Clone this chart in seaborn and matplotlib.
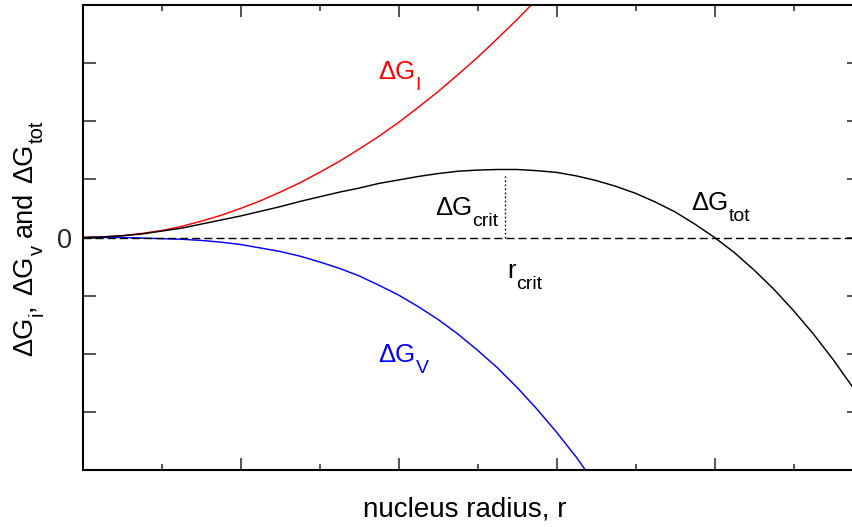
import matplotlib
matplotlib.use("Agg")
import numpy as np
import pandas as pd
import seaborn as sns
import matplotlib.pyplot as plt
from matplotlib.transforms import IdentityTransform
from matplotlib.ticker import MultipleLocator, FixedLocator

# ---------------- data ----------------
r_all = [0.0, 0.25, 0.5, 0.75, 1.0, 1.25, 1.5, 1.75, 2.0, 2.25, 2.5, 2.75,
         3.0, 3.25, 3.5, 3.75, 4.0, 4.25, 4.5, 4.75, 5.0, 5.25, 5.5, 5.75,
         6.0, 6.25, 6.5, 6.75, 7.0, 7.25, 7.5, 7.75, 8.0, 8.25, 8.5, 8.75,
         9.0, 9.25, 9.5, 9.75, 10.0]

dG_i = [0.0, 0.01, 0.03, 0.07, 0.12, 0.19, 0.28, 0.38, 0.50, 0.63, 0.78, 0.94,
        1.12, 1.31, 1.52, 1.74, 1.98, 2.24, 2.51, 2.80, 3.10, 3.42, 3.75, 4.10,
        4.46]

dG_v = [0.0, 0.00, 0.00, -0.01, -0.02, -0.03, -0.05, -0.08, -0.12, -0.18,
        -0.24, -0.32, -0.42, -0.53, -0.66, -0.82, -0.99, -1.19, -1.41, -1.66,
        -1.94, -2.24, -2.58, -2.95, -3.35, -3.78, -4.26]

dG_tot = [0.0, 0.01, 0.03, 0.06, 0.11, 0.16, 0.23, 0.30, 0.37, 0.45, 0.53,
          0.62, 0.70, 0.78, 0.85, 0.93, 0.99, 1.05, 1.10, 1.14, 1.16, 1.17,
          1.17, 1.15, 1.12, 1.06, 0.98, 0.88, 0.76, 0.61, 0.44, 0.23, 0.0,
          -0.26, -0.56, -0.89, -1.26, -1.66, -2.10, -2.58, -3.10]

zero_level = 0.0
r_crit = 5.35
dG_crit_top = 1.08

x_limits = (0, 9.84)
y_limits = (-4, 4)
x_major = [0, 2, 4, 6, 8]
y_major = [-4, -3, -2, -1, 0, 1, 2, 3, 4]

# ---------------- style ----------------
sns.set_style("white")
plt.rcParams["font.family"] = ["Liberation Sans", "DejaVu Sans"]

W, H = 852, 527
fig = plt.figure(figsize=(W / 100, H / 100), dpi=100)
ax = fig.add_axes([82.5 / W, 57 / H, 777.5 / W, 465 / H])

df_i = pd.DataFrame({"r": r_all[:len(dG_i)], "G": dG_i})
df_v = pd.DataFrame({"r": r_all[:len(dG_v)], "G": dG_v})
df_t = pd.DataFrame({"r": r_all[:len(dG_tot)], "G": dG_tot})

lw = 1.05
sns.lineplot(data=df_i, x="r", y="G", ax=ax, color="#ff0000", lw=lw,
             sort=False, estimator=None)
sns.lineplot(data=df_v, x="r", y="G", ax=ax, color="#0000ff", lw=lw,
             sort=False, estimator=None)
sns.lineplot(data=df_t, x="r", y="G", ax=ax, color="black", lw=lw,
             sort=False, estimator=None)

ax.axhline(zero_level, color="black", lw=1.0, dashes=(5.8, 2.9))
ax.plot([r_crit, r_crit], [zero_level, dG_crit_top], color="black",
        lw=1.0, dashes=(1.2, 1.7))

ax.set_xlim(*x_limits)
ax.set_ylim(*y_limits)
ax.set_xlabel("")
ax.set_ylabel("")

ax.xaxis.set_major_locator(FixedLocator(x_major))
ax.xaxis.set_minor_locator(MultipleLocator(1))
ax.yaxis.set_major_locator(FixedLocator(y_major))
ax.set_xticklabels([])
ax.set_yticklabels(["0" if v == 0 else "" for v in y_major])

ax.tick_params(axis="x", which="major", direction="in", length=8.6,
               width=1.1, top=True, bottom=True)
ax.tick_params(axis="x", which="minor", direction="in", length=4.3,
               width=1.1, top=True, bottom=True)
ax.tick_params(axis="y", which="major", direction="in", length=9.4,
               width=1.1, left=True, right=True, labelsize=19.5, pad=7.5)

for s in ax.spines.values():
    s.set_linewidth(1.5)
    s.set_color("black")
    s.set_visible(True)

# ---------------- rich text helper (main + subscripts) ----------------
fig.canvas.draw()
renderer = fig.canvas.get_renderer()

DROP = 11.0  # px


def rich(x0, y0, parts, color, rot=0, align="left", main=18.5, sub=14):
    th = np.deg2rad(rot)
    d = np.array([np.cos(th), np.sin(th)])
    down = np.array([np.sin(th), -np.cos(th)])
    items = []
    pos = 0.0
    for p in parts:
        if p[0] == "gap":
            pos += p[1]
            continue
        txt, kind = p
        size = main if kind == "main" else sub
        t = fig.text(0, 0, txt, transform=IdentityTransform(), ha="left",
                     va="baseline", rotation=rot, rotation_mode="anchor",
                     fontsize=size, color=color)
        bb = t.get_window_extent(renderer)
        adv = bb.width if rot == 0 else bb.height
        items.append((t, pos, kind))
        pos += adv + 0.5
    shift = -pos / 2 if align == "center" else 0.0
    for t, p0, kind in items:
        xy = np.array([x0, y0]) + d * (p0 + shift)
        if kind == "sub":
            xy = xy + down * DROP
        t.set_position((xy[0], xy[1]))


def rich_data(xd, yd, parts, color):
    X, Y = ax.transData.transform((xd, yd))
    rich(X, Y, parts, color)


rich_data(3.74, 2.73, [("ΔG", "main"), ("I", "sub")], "#ff0000")
rich_data(3.74, -2.15, [("ΔG", "main"), ("V", "sub")], "#0000ff")
rich_data(4.46, 0.387, [("ΔG", "main"), ("crit", "sub")], "black")
rich_data(7.70, 0.473, [("ΔG", "main"), ("tot", "sub")], "black")
rich_data(5.375, -0.70, [("r", "main"), ("crit", "sub")], "black")

# y label (rotated), centred on the axes
rich(32, H - 238, [("ΔG", "main"), ("i", "sub"), (",", "main"), ("gap", 8),
                   ("ΔG", "main"), ("v", "sub"), ("gap", 8),
                   ("and", "main"), ("gap", 8),
                   ("ΔG", "main"), ("tot", "sub")],
     "black", rot=90, align="center", main=19.5, sub=14.5)

# x label
fig.text(465, H - 517, "nucleus radius, r", transform=IdentityTransform(),
         ha="center", va="baseline", fontsize=20, color="black")

fig.savefig("out.png", dpi=100)
